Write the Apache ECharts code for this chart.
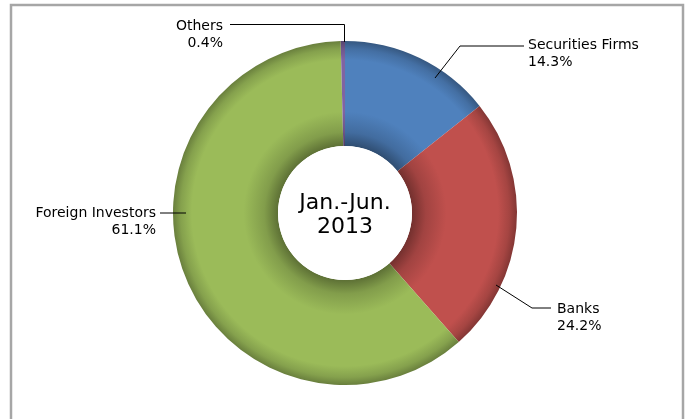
<!DOCTYPE html>
<html><head><meta charset="utf-8">
<script src="https://cdn.jsdelivr.net/npm/echarts@6/dist/echarts.min.js"></script>
<style>html,body{margin:0;padding:0;background:#fff}#c{width:691px;height:419px}</style>
</head><body><div id="c"></div>
<script>
const categories = ['Securities Firms', 'Banks', 'Foreign Investors', 'Others'];
const values = [14.3, 24.2, 61.1, 0.4];
const centerTitle = 'Jan.-Jun.\n2013';

const baseColors = ['#4F81BD', '#C0504D', '#9BBB59', '#8064A2'];
const CX = 345, CY = 213, R = 172, RI = 67;

function shade(hex, f) {
  const n = parseInt(hex.slice(1), 16);
  const r = Math.round(((n >> 16) & 255) * f), g = Math.round(((n >> 8) & 255) * f), b = Math.round((n & 255) * f);
  return 'rgb(' + r + ',' + g + ',' + b + ')';
}
function grad(hex) {
  const k = RI / R;
  return {
    type: 'radial', x: CX, y: CY, r: R, global: true,
    colorStops: [
      { offset: 0, color: shade(hex, 0.6) },
      { offset: k, color: shade(hex, 0.6) },
      { offset: k + 0.08, color: shade(hex, 0.84) },
      { offset: k + 0.2, color: hex },
      { offset: 0.89, color: hex },
      { offset: 0.955, color: shade(hex, 0.86) },
      { offset: 1, color: shade(hex, 0.68) }
    ]
  };
}

// label anchor and leader-line layout (annotation placement, not data)
const labelPos = [
  { x: 528, y: 54, align: 'left', line: [[435, 78], [460, 46], [524, 46]] },
  { x: 557, y: 318, align: 'left', line: [[496, 285], [532, 308], [551, 308]] },
  { x: 156, y: 222, align: 'right', line: [[186, 213], [160, 213]] },
  { x: 223, y: 35, align: 'right', line: [[344.5, 42], [344.5, 24.5], [230, 24.5]] }
];

const data = categories.map((name, i) => ({
  name, value: values[i],
  itemStyle: { color: grad(baseColors[i]) },
  label: { align: labelPos[i].align }
}));

const FONT = 'DejaVu Sans, Liberation Sans, sans-serif';

const leaderLines = labelPos.map(lp => ({
  type: 'polyline', z: 100, silent: true,
  shape: { points: lp.line },
  style: { fill: null, stroke: '#000', lineWidth: 1 }
}));

const chart = echarts.init(document.getElementById('c'), null, { renderer: 'canvas' });
chart.setOption({
  animation: false,
  backgroundColor: '#fff',
  graphic: [{
    type: 'rect', shape: { x: 11, y: 5, width: 672, height: 430 },
    style: { fill: 'none', stroke: '#A6A6A6', lineWidth: 2.5 }, z: 0
  }].concat(leaderLines),
  series: [{
    type: 'pie',
    center: [CX, CY],
    radius: [RI, R],
    startAngle: 90,
    clockwise: true,
    silent: true,
    data,
    itemStyle: { borderWidth: 0 },
    label: {
      show: true,
      formatter: p => p.name + '\n' + p.value + '%',
      fontFamily: FONT,
      fontSize: 14,
      lineHeight: 17,
      color: '#000'
    },
    labelLine: { show: false },
    labelLayout: p => {
      const lp = labelPos[p.dataIndex];
      return { x: lp.x, y: lp.y, align: lp.align, verticalAlign: 'middle' };
    }
  }, {
    type: 'pie',
    center: [CX, CY],
    radius: [0, RI],
    silent: true,
    data: [{ value: 1, name: centerTitle, itemStyle: { color: '#fff' } }],
    label: {
      show: true, position: 'center',
      formatter: '{b}',
      fontFamily: FONT,
      fontSize: 22, lineHeight: 24, color: '#000',
      offset: [0, 2]
    },
    labelLine: { show: false }
  }]
});
</script></body></html>
